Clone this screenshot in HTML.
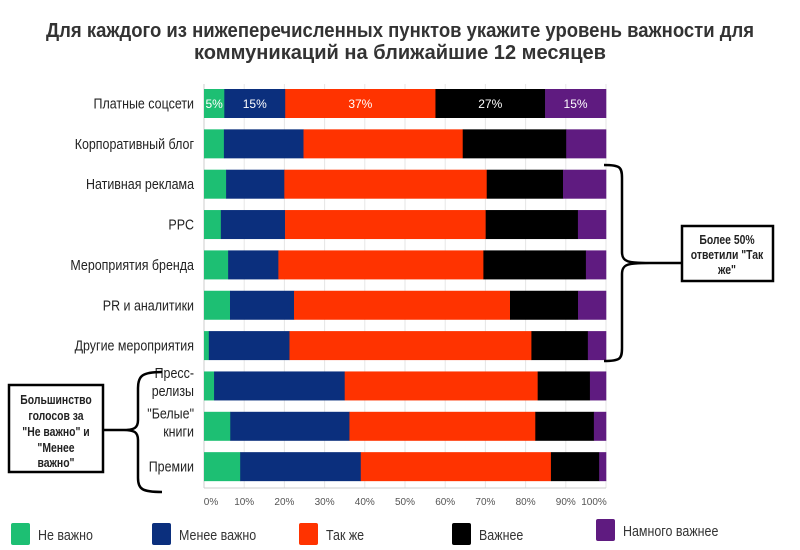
<!DOCTYPE html>
<html><head><meta charset="utf-8">
<style>
html,body{margin:0;padding:0;background:#fff;}
svg{display:block;font-family:"Liberation Sans",sans-serif;}
</style></head>
<body>
<svg id="chart" width="800" height="550" viewBox="0 0 800 550" xmlns="http://www.w3.org/2000/svg">
<g fill="#333" font-weight="bold" font-size="20" text-anchor="middle">
<text x="400" y="37" textLength="708" lengthAdjust="spacingAndGlyphs">Для каждого из нижеперечисленных пунктов укажите уровень важности для</text>
<text x="400" y="59" textLength="412" lengthAdjust="spacingAndGlyphs">коммуникаций на ближайшие 12 месяцев</text>
</g>
<g id="grid"></g>
<g id="bars"></g>
<g id="labels"></g>
<g id="ticks"></g>
<g>
<path d="M604 165 C620 165 622 167 622 178 L622 252 C622 262 628 263 650 263 L682 263 M650 263 C628 263 622 264 622 274 L622 348 C622 359 620 361 604 361" fill="none" stroke="#000" stroke-width="2.5"/>
<rect x="682" y="226" width="91" height="55" fill="#fff" stroke="#000" stroke-width="2.5"/>
<g font-size="13" font-weight="bold" fill="#222" text-anchor="middle" class="cond">
<text x="727" y="244">Более 50%</text>
<text x="727" y="259">ответили "Так</text>
<text x="727" y="274">же"</text>
</g>
</g>
<g>
<path d="M162 372 C142 372 138 376 138 388 L138 420 C138 428 134 430 124 430 L103 430 M124 430 C134 430 138 432 138 440 L138 478 C138 489 142 492 162 492" fill="none" stroke="#000" stroke-width="2.5"/>
<rect x="9" y="385" width="94" height="87" fill="#fff" stroke="#000" stroke-width="2.5"/>
<g font-size="13" font-weight="bold" fill="#222" text-anchor="middle" class="cond">
<text x="56" y="404">Большинство</text>
<text x="56" y="420">голосов за</text>
<text x="56" y="436">"Не важно" и</text>
<text x="56" y="452">"Менее</text>
<text x="56" y="467">важно"</text>
</g>
</g>
<g id="legend"></g>
</svg>
<script>
const categories = ["Платные соцсети","Корпоративный блог","Нативная реклама","PPC","Мероприятия бренда","PR и аналитики","Другие мероприятия","Пресс-|релизы","\"Белые\"|книги","Премии"];
const seriesNames = ["Не важно","Менее важно","Так же","Важнее","Намного важнее"];
const notImportant  = [5, 5, 5.5, 4.2, 6, 6.5, 1.2, 2.5, 6.5, 9];
const lessImportant = [15, 20, 14.5, 16, 12.5, 16, 20, 32.5, 29.5, 30];
const same          = [37, 40, 50.4, 50, 51, 54, 60, 48, 46, 47.3];
const moreImportant = [27, 26, 19, 23, 25.5, 17, 14, 13, 14.5, 12];
const muchMore      = [15, 10, 10.7, 7, 5, 7, 4.5, 4, 3, 1.7];
const firstRowLabels = ["5%","15%","37%","27%","15%"];
const tickValues = [0,10,20,30,40,50,60,70,80,90,100];

const colors = ["#1dbf73","#0b2f7d","#ff3300","#000000","#5f1b80"];
const series = [notImportant, lessImportant, same, moreImportant, muchMore];
const NS = "http://www.w3.org/2000/svg";
const X0 = 204, X1 = 606, Y0 = 89, STEP = 40.35, BH = 29;
const xScale = v => X0 + (X1 - X0) * v / 100;
const yScale = i => Y0 + STEP * i;
function mk(tag, attrs, parent){const e=document.createElementNS(NS,tag);for(const k in attrs)e.setAttribute(k,attrs[k]);parent.appendChild(e);return e;}
function condense(t,f){const w=t.getComputedTextLength();if(w>0){t.setAttribute("textLength",(w*f).toFixed(1));t.setAttribute("lengthAdjust","spacingAndGlyphs");}}

const grid = document.getElementById("grid");
tickValues.forEach(t=>{
  const l = mk("line",{x1:xScale(t),x2:xScale(t),y1:84,y2:488,stroke:"#e6e6e6","stroke-width":1},grid);
  
  
});
const ax = mk("line",{x1:X0,x2:X0,y1:84,y2:488,stroke:"#ccc","stroke-width":1},grid);


const bx = mk("line",{x1:X0,x2:X1,y1:488,y2:488,stroke:"#ccc","stroke-width":1},grid);



const bars = document.getElementById("bars");
categories.forEach((c,i)=>{
  const total = series.reduce((s,a)=>s+a[i],0);
  let acc = 0;
  series.forEach((a,k)=>{
    const v = a[i]/total*100;
    const r = mk("rect",{x:xScale(acc),y:yScale(i),width:xScale(acc+v)-xScale(acc)+0.3,height:BH,fill:colors[k]},bars);
    
    
    if(i===0){
      const t = mk("text",{x:(xScale(acc)+xScale(acc+v))/2,y:yScale(i)+19,"text-anchor":"middle","font-size":12,fill:"#fff"},bars);
      t.textContent = firstRowLabels[k];
      
      
    }
    acc += v;
  });
});

const labels = document.getElementById("labels");
categories.forEach((c,i)=>{
  const parts = c.split("|");
  const cy = yScale(i)+BH/2;
  parts.forEach((p,j)=>{
    const y = parts.length===1 ? cy+5 : cy - 3 + (j===0?-5:13);
    const t = mk("text",{x:194,y:y,"text-anchor":"end","font-size":15,fill:"#222"},labels);
    t.textContent = p;
    
    
    condense(t,0.83);
  });
});

const ticks = document.getElementById("ticks");
tickValues.forEach(t=>{
  let x = xScale(t);
  if(t===0) x += 7; if(t===100) x -= 12;
  const e = mk("text",{x:x,y:505,"text-anchor":"middle","font-size":10,fill:"#555"},ticks);
  e.textContent = t+"%";
  
  
});

const legend = document.getElementById("legend");
const lx = [11,152,299,452,596], ly=[523,523,523,523,519];
seriesNames.forEach((n,k)=>{
  const g = mk("g",{},legend);
  
  
  mk("rect",{x:lx[k],y:ly[k],width:19,height:22,rx:2,fill:colors[k]},g);
  const t = mk("text",{x:lx[k]+27,y:ly[k]+17,"font-size":15,fill:"#333"},g);
  t.textContent = n;
  condense(t,0.83);
});
document.querySelectorAll(".cond text").forEach(t=>condense(t,0.8));
</script>
</body></html>
